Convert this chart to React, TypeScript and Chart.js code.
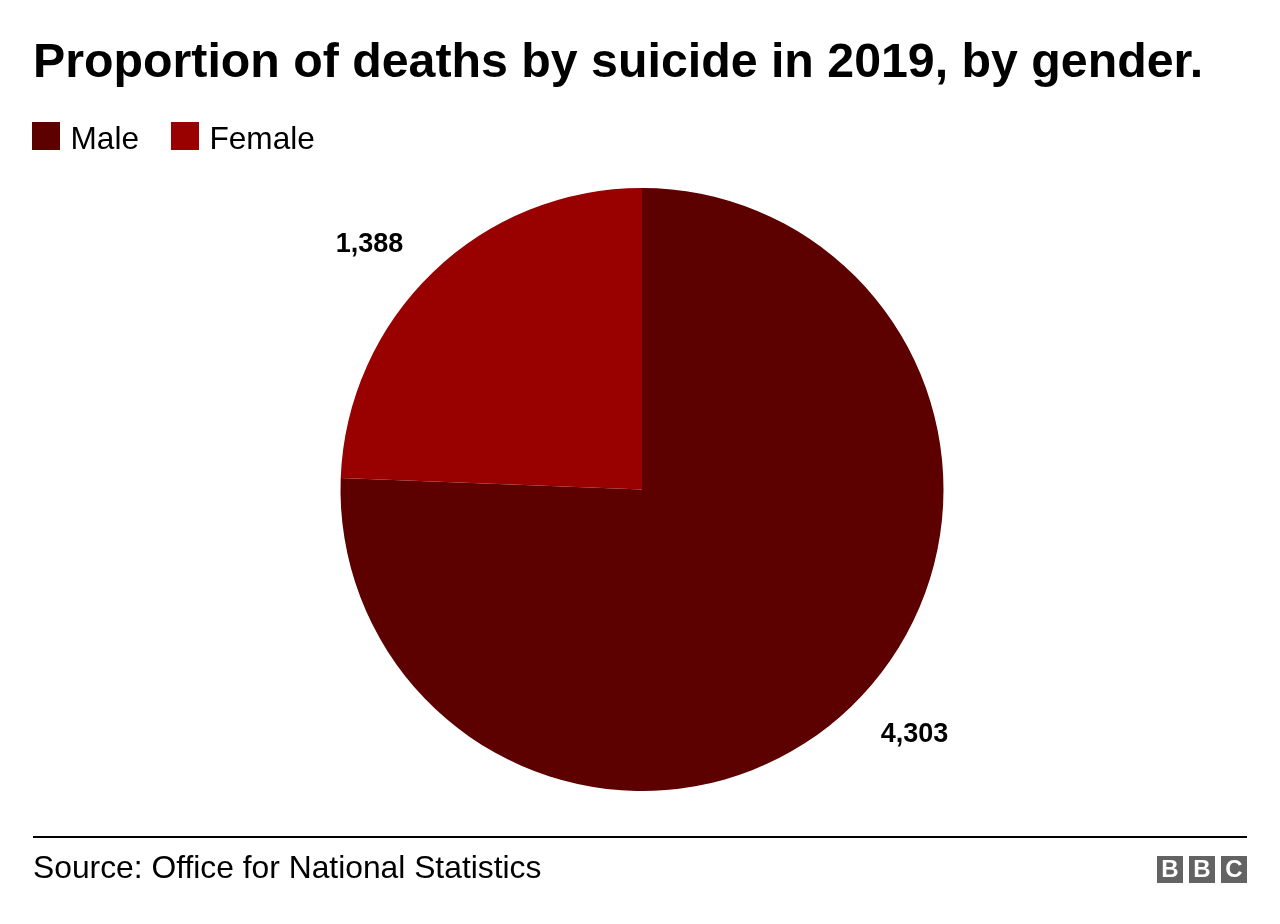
import React, { useEffect, useRef } from "react";
import { Chart, registerables } from "chart.js";

Chart.register(...registerables);

const categories = ["Male", "Female"];
const deaths = [4303, 1388];
const sliceColors = ["#5c0000", "#990000"];
const valueLabels = ["4,303", "1,388"];
const titleText = "Proportion of deaths by suicide in 2019, by gender.";
const sourceText = "Source: Office for National Statistics";

const FONT = "'Liberation Sans', Arial, Helvetica, sans-serif";

const decorPlugin = {
  id: "decor",
  afterDraw(chart: any) {
    const ctx = chart.ctx as CanvasRenderingContext2D;
    ctx.save();
    // title
    ctx.fillStyle = "#000";
    ctx.textBaseline = "alphabetic";
    ctx.textAlign = "left";
    ctx.font = `bold 48.3px ${FONT}`;
    ctx.fillText(titleText, 33, 77);
    // legend
    ctx.font = `31.6px ${FONT}`;
    let x = 32;
    categories.forEach((c, i) => {
      ctx.fillStyle = sliceColors[i];
      ctx.fillRect(x, 122, 28, 28);
      ctx.fillStyle = "#000";
      ctx.fillText(c, x + 38.5, 149);
      x += 38.5 + ctx.measureText(c).width + 32;
    });
    // value labels
    const meta = chart.getDatasetMeta(0);
    ctx.font = `bold 27px ${FONT}`;
    ctx.textAlign = "center";
    ctx.textBaseline = "middle";
    ctx.fillStyle = "#000";
    meta.data.forEach((arc: any, i: number) => {
      const p = arc.getProps(["x", "y", "startAngle", "endAngle", "outerRadius"], true);
      const mid = (p.startAngle + p.endAngle) / 2 - (4.1 * Math.PI) / 180;
      const r = p.outerRadius * 1.216;
      ctx.fillText(valueLabels[i], p.x + Math.cos(mid) * r, p.y + Math.sin(mid) * r);
    });
    // source line
    ctx.fillStyle = "#000";
    ctx.fillRect(33, 836, 1214, 2);
    ctx.textAlign = "left";
    ctx.textBaseline = "alphabetic";
    ctx.font = `31.8px ${FONT}`;
    ctx.fillText(sourceText, 33, 878);
    // BBC logo
    const letters = ["B", "B", "C"];
    const bx = [1157, 1189, 1221];
    ctx.font = `bold 24px ${FONT}`;
    ctx.textAlign = "center";
    ctx.textBaseline = "middle";
    letters.forEach((l, i) => {
      ctx.fillStyle = "#636363";
      ctx.fillRect(bx[i], 856, 26, 27);
      ctx.fillStyle = "#fff";
      ctx.fillText(l, bx[i] + 13, 870);
    });
    ctx.restore();
  },
};

export default function App() {
  const ref = useRef<HTMLCanvasElement>(null);
  useEffect(() => {
    document.body.style.margin = "0";
    const chart = new Chart(ref.current!, {
      type: "pie",
      data: {
        labels: categories,
        datasets: [
          {
            data: deaths,
            backgroundColor: sliceColors,
            borderWidth: 0,
          },
        ],
      },
      options: {
        responsive: false,
        animation: false,
        layout: { padding: { top: 188, bottom: 133, left: 4, right: 0 } },
        plugins: {
          legend: { display: false },
          tooltip: { enabled: false },
          title: { display: false },
        },
      },
      plugins: [decorPlugin],
    });
    return () => chart.destroy();
  }, []);
  return (
    <div style={{ position: "absolute", left: 0, top: 0, width: 1280, height: 924, background: "#fff" }}>
      <canvas ref={ref} width={1280} height={924} style={{ display: "block" }} />
    </div>
  );
}
